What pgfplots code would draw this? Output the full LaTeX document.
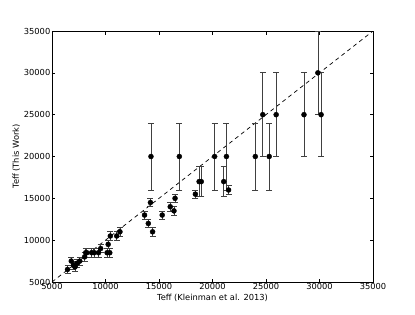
\documentclass[border=0pt]{standalone}
\usepackage{fontspec}
\setmainfont{DejaVu Sans}
\usepackage{pgfplots}
\usepackage{pgfplotstable}
\pgfplotsset{compat=1.18}
\pgfplotstableread{
x y ey
6450 6500 500
6800 7500 500
7000 7000 500
7150 6800 500
7350 7250 500
7600 7500 500
8050 8000 500
8150 8500 500
8250 8500 500
8700 8500 500
8950 8500 500
9350 8500 500
9550 9000 500
10150 8500 500
10400 8500 500
10250 9500 500
10450 10500 500
11050 10500 500
11350 11000 500
13650 13000 500
14000 12000 500
14400 11000 500
14200 14500 500
14250 20000 4000
15300 13000 500
16050 14000 500
16400 13500 500
16500 15000 500
16900 20000 4000
18400 15500 500
18750 17000 1800
18950 17000 1800
20200 20000 4000
21050 17000 1800
21300 20000 4000
21500 16000 500
24000 20000 4000
24700 25000 5000
25300 20000 4000
25950 25000 5000
28550 25000 5000
29850 30000 5000
30150 25000 5000
}\datatable
\begin{document}
\begin{tikzpicture}
\begin{axis}[
  name=ax,
  scale only axis,
  width=321pt, height=251pt,
  xmin=5000, xmax=35000, ymin=5000, ymax=35000,
  xtick={5000,10000,...,35000},
  ytick={5000,10000,...,35000},
  minor tick num=0,
  tick align=inside,
  major tick length=3.5pt,
  tick style={line width=0.6pt, black},
  scaled ticks=false,
  /pgf/number format/assume math mode=true,
  /pgf/number format/1000 sep={},
  tick label style={font=\fontsize{8.3}{10}\selectfont},
  xticklabel style={inner sep=1.5pt},
  yticklabel style={inner sep=1.5pt},
  label style={font=\fontsize{8.3}{10}\selectfont},
  xlabel={Teff (Kleinman et al. 2013)},
  ylabel={Teff (This Work)},
  xlabel style={yshift=1pt},
  ylabel style={yshift=-1pt},
  axis line style={line width=0.75pt},
  clip=true,
]
\addplot[black, dash pattern=on 4pt off 3.5pt, line width=0.7pt] coordinates {(5000,5000) (35000,35000)};
\addplot[only marks, mark=*, mark size=2.5pt, black,
  error bars/.cd, y dir=both, y explicit,
  error bar style={line width=0.7pt, black!75},
  error mark options={rotate=90, mark size=3pt, line width=0.7pt, black!75}]
  table[x=x, y=y, y error=ey] {\datatable};
\end{axis}
\path (ax.south west) ++(-52pt,-32pt) rectangle ++(415pt,314pt);
\end{tikzpicture}
\end{document}
